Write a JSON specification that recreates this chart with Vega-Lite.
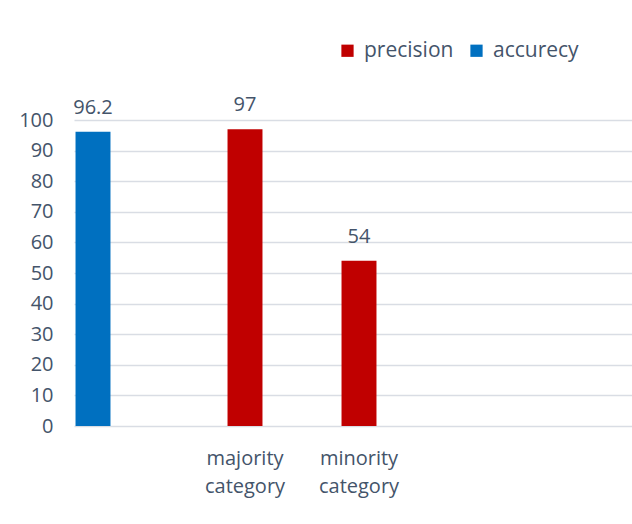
{
  "$schema": "https://vega.github.io/schema/vega-lite/v6.json",
  "width": 557,
  "height": 306,
  "autosize": {"type": "none"},
  "padding": {"left": 75, "top": 120, "right": 0, "bottom": 98},
  "background": "white",
  "data": {
    "values": [
      {"category": "overall", "series": "accurecy", "value": 96.2},
      {"category": "majority category", "series": "precision", "value": 97},
      {"category": "minority category", "series": "precision", "value": 54}
    ]
  },
  "encoding": {
    "x": {
      "field": "category",
      "type": "nominal",
      "sort": null,
      "scale": {
        "domain": ["overall", "majority category", "minority category", "pad1", "pad2"],
        "range": [-1, 569],
        "paddingInner": 0,
        "paddingOuter": 0
      },
      "axis": {
        "title": null,
        "labelAngle": 0,
        "ticks": false,
        "domain": false,
        "grid": false,
        "labelFont": "Open Sans",
        "labelFontSize": 20,
        "labelColor": "#44546A",
        "labelPadding": 22,
        "labelLineHeight": 28,
        "labelBaseline": "top",
        "labelExpr": "indexof(['majority category','minority category'], datum.value) >= 0 ? split(datum.value, ' ') : ''"
      }
    },
    "xOffset": {
      "field": "series",
      "type": "nominal",
      "scale": {"domain": ["accurecy", "precision", "none"], "paddingInner": 0.08, "paddingOuter": 0.04}
    },
    "y": {
      "field": "value",
      "type": "quantitative",
      "scale": {"domain": [0, 100], "nice": false},
      "axis": {
        "title": null,
        "values": [0, 10, 20, 30, 40, 50, 60, 70, 80, 90, 100],
        "ticks": false,
        "domain": false,
        "grid": true,
        "gridColor": "#D9DDE4",
        "gridWidth": 1.3,
        "labelFont": "Open Sans",
        "labelFontSize": 20,
        "labelColor": "#44546A",
        "labelPadding": 22
      }
    }
  },
  "layer": [
    {
      "mark": {"type": "bar"},
      "encoding": {
        "color": {
          "field": "series",
          "type": "nominal",
          "scale": {"domain": ["precision", "accurecy"], "range": ["#C00000", "#0070C0"]},
          "legend": {
            "title": null,
            "orient": "none",
            "direction": "horizontal",
            "legendX": 262,
            "legendY": -80,
            "symbolType": "square",
            "symbolSize": 150,
            "symbolStrokeWidth": 0,
            "labelFont": "Open Sans",
            "labelFontSize": 21,
            "labelColor": "#44546A",
            "labelOffset": 6,
            "columnPadding": 12,
            "encode": {
              "symbols": {
                "update": {
                  "fill": {"signal": "datum.value == 'accurecy' ? '#4472C4' : '#C00000'"},
                  "stroke": {"value": "transparent"}
                }
              }
            }
          }
        }
      }
    },
    {
      "mark": {
        "type": "text",
        "font": "Open Sans",
        "fontSize": 20,
        "color": "#44546A",
        "baseline": "alphabetic",
        "dy": -18
      },
      "encoding": {
        "text": {"field": "value", "type": "quantitative"}
      }
    }
  ],
  "config": {"view": {"stroke": null}}
}
